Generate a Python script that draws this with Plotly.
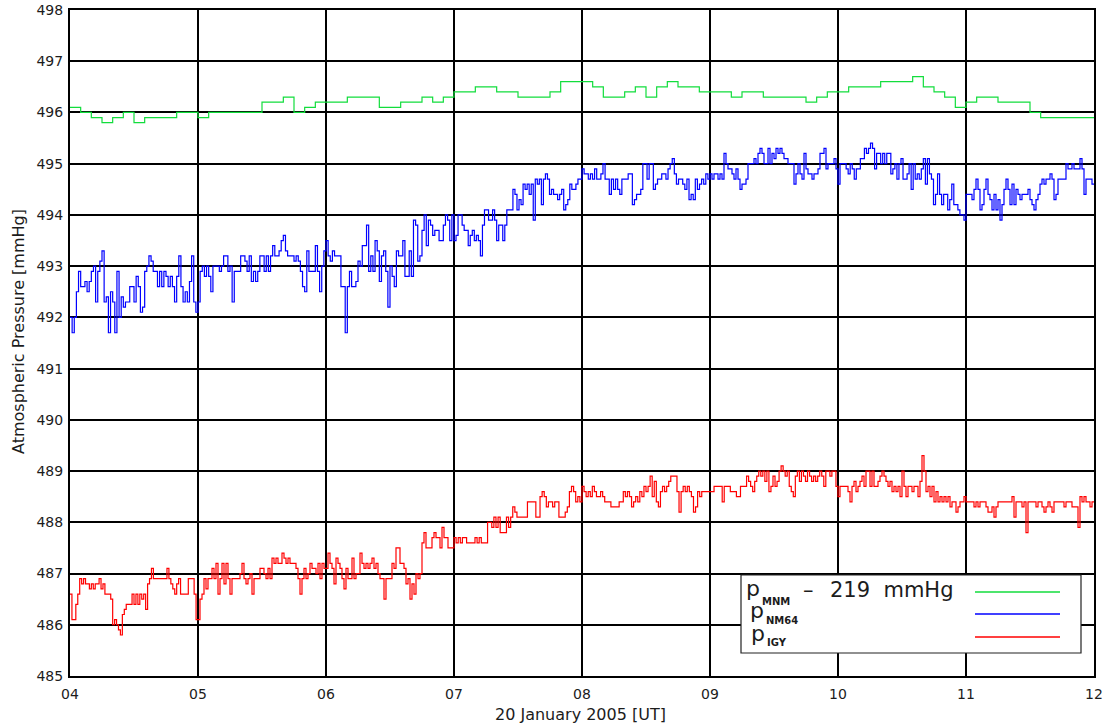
import plotly.graph_objects as go

# ---------------- data ----------------
hours = [4, 5, 6, 7, 8, 9, 10, 11]
hour_labels = ["04", "05", "06", "07", "08", "09", "10", "11", "12"]
y_ticks = list(range(485, 499))

# MNM - 219 mmHg, 5-minute values per hour
mnm_04 = [496.1, 496.0, 495.9, 495.8, 495.9, 496.0, 495.8, 495.9, 495.9, 495.9, 496.0, 496.0]
mnm_05 = [495.9, 496.0, 496.0, 496.0, 496.0, 496.0, 496.2, 496.2, 496.3, 496.0, 496.1, 496.2]
mnm_06 = [496.2, 496.2, 496.3, 496.3, 496.3, 496.1, 496.1, 496.2, 496.2, 496.3, 496.2, 496.3]
mnm_07 = [496.4, 496.4, 496.5, 496.5, 496.4, 496.4, 496.3, 496.3, 496.3, 496.4, 496.6, 496.6]
mnm_08 = [496.6, 496.5, 496.3, 496.3, 496.4, 496.5, 496.3, 496.5, 496.6, 496.5, 496.5, 496.4]
mnm_09 = [496.4, 496.4, 496.3, 496.4, 496.4, 496.3, 496.3, 496.3, 496.3, 496.2, 496.3, 496.4]
mnm_10 = [496.4, 496.5, 496.5, 496.5, 496.6, 496.6, 496.6, 496.7, 496.5, 496.4, 496.3, 496.1]
mnm_11 = [496.2, 496.3, 496.3, 496.2, 496.2, 496.2, 496.0, 495.9, 495.9, 495.9, 495.9, 495.9]

# NM64, ~1-minute values per hour
nm64_04 = [492.0, 491.7, 492.0, 492.5, 492.9, 492.6, 492.6, 492.7, 492.5, 492.7,
           492.9, 493.0, 492.3, 492.9, 493.1, 493.3, 492.3, 492.4, 491.7, 492.5,
           492.3, 491.7, 492.9, 492.0, 492.4, 492.2, 492.3, 492.3, 492.6, 492.6,
           492.3, 492.8, 492.6, 492.1, 492.2, 492.9, 493.0, 493.2, 493.1, 492.9,
           492.9, 492.6, 492.9, 492.6, 492.9, 492.8, 492.6, 492.8, 492.6, 492.3,
           492.8, 493.2, 492.6, 492.3, 492.5, 492.3, 492.7, 493.2, 492.3, 492.1]
nm64_05 = [492.3, 492.9, 493.0, 492.8, 493.0, 492.8, 492.5, 493.0, 493.0, 493.0,
           492.9, 493.0, 493.2, 493.2, 492.9, 493.0, 492.3, 492.9, 492.9, 492.9,
           493.2, 493.2, 493.1, 492.9, 493.2, 492.7, 492.9, 492.7, 492.9, 493.2,
           493.2, 492.9, 493.2, 492.9, 493.2, 493.4, 493.2, 493.2, 493.3, 493.5,
           493.6, 493.3, 493.2, 493.2, 493.2, 493.1, 493.2, 493.1, 492.9, 492.6,
           492.5, 493.3, 492.9, 492.9, 492.9, 493.4, 492.9, 492.5, 493.0, 493.3]
nm64_06 = [493.5, 493.2, 493.1, 493.3, 493.2, 493.2, 493.2, 492.6, 492.6, 491.7,
           492.6, 492.9, 492.6, 492.6, 492.7, 493.1, 493.0, 493.4, 493.4, 493.8,
           492.9, 493.2, 492.9, 493.5, 493.3, 492.7, 493.2, 493.3, 492.9, 492.2,
           493.0, 492.8, 492.6, 493.3, 493.2, 493.2, 493.5, 492.8, 492.8, 493.3,
           492.8, 493.9, 493.8, 493.1, 493.2, 493.7, 494.0, 493.4, 493.9, 493.8,
           493.6, 493.7, 493.7, 493.5, 493.5, 493.8, 494.0, 493.9, 493.5, 494.0]
nm64_07 = [493.5, 493.6, 494.0, 494.0, 493.8, 493.7, 493.7, 493.4, 493.6, 493.7,
           493.5, 493.6, 493.5, 493.2, 493.8, 494.1, 494.1, 493.9, 493.9, 494.1,
           493.9, 493.5, 493.8, 493.8, 493.5, 493.8, 494.1, 494.1, 494.1, 494.5,
           494.4, 494.1, 494.3, 494.2, 494.6, 494.5, 494.6, 494.4, 494.6, 493.9,
           494.7, 494.6, 494.7, 494.2, 494.7, 494.8, 494.7, 494.4, 494.5, 494.4,
           494.4, 494.3, 494.4, 494.5, 494.1, 494.2, 494.3, 494.6, 494.5, 494.5,
           494.6, 494.7, 494.7]
nm64_08 = [494.9, 494.8, 494.8, 494.7, 494.8, 494.7, 494.9, 494.7, 494.7, 494.8,
           495.0, 494.7, 494.7, 494.4, 494.7, 494.5, 494.7, 494.5, 494.4, 494.7,
           494.7, 494.7, 494.8, 494.8, 494.2, 494.3, 494.4, 494.4, 494.5, 495.0,
           495.0, 494.7, 495.0, 495.0, 494.5, 494.6, 494.7, 494.7, 494.8, 494.8,
           494.7, 494.9, 495.0, 495.1, 494.8, 494.6, 494.7, 494.7, 494.6, 494.5,
           494.7, 494.3, 494.4, 494.3, 494.7, 494.5, 494.6, 494.7, 494.6, 494.8,
           494.7]
nm64_09 = [494.8, 494.7, 494.8, 494.8, 494.7, 494.8, 494.7, 495.2, 495.0, 494.9,
           494.9, 494.8, 494.7, 494.9, 494.7, 494.5, 494.6, 494.6, 494.7, 495.0,
           495.0, 495.0, 495.1, 495.0, 495.2, 495.3, 495.2, 495.0, 495.0, 495.3,
           495.0, 495.2, 495.1, 495.3, 495.2, 495.3, 495.2, 495.1, 495.1, 495.0,
           495.0, 495.0, 494.6, 494.8, 495.0, 494.8, 494.7, 495.2, 494.9, 494.8,
           494.8, 494.7, 494.8, 494.8, 494.9, 495.2, 495.2, 495.3, 494.9, 495.0,
           495.0, 495.0, 495.1, 494.9]
nm64_10 = [494.6, 495.0, 495.0, 495.0, 494.9, 494.8, 495.0, 494.9, 494.7, 494.9,
           494.9, 495.1, 495.1, 495.3, 495.2, 495.3, 495.4, 495.3, 494.9, 495.2,
           495.2, 495.0, 495.2, 495.0, 495.2, 495.2, 494.8, 494.9, 495.0, 494.7,
           495.0, 495.1, 494.7, 494.7, 494.8, 495.0, 494.5, 495.0, 494.7, 494.8,
           494.7, 494.9, 495.1, 494.6, 495.1, 494.8, 494.7, 494.2, 494.4, 494.8,
           494.4, 494.2, 494.4, 494.4, 494.1, 494.3, 494.6, 494.2, 494.2, 494.1,
           494.0, 494.0, 493.9]
nm64_11 = [494.4, 494.4, 494.4, 494.3, 494.5, 494.7, 494.5, 494.1, 494.2, 494.5,
           494.7, 494.4, 494.3, 494.1, 494.4, 494.1, 494.3, 493.9, 494.2, 494.5,
           494.7, 494.5, 494.2, 494.6, 494.2, 494.5, 494.4, 494.3, 494.4, 494.4,
           494.4, 494.5, 494.3, 494.2, 494.1, 494.3, 494.4, 494.6, 494.7, 494.6,
           494.7, 494.7, 494.8, 494.7, 494.3, 494.4, 494.7, 494.7, 494.7, 494.7,
           495.0, 494.9, 494.9, 495.0, 494.9, 494.9, 494.9, 495.1, 494.9, 494.4,
           494.7, 494.7, 494.7, 494.6]

# IGY, ~1-minute values per hour
igy_04 = [486.6, 486.1, 486.1, 486.4, 486.6, 486.9, 486.8, 486.9, 486.8, 486.8,
          486.7, 486.8, 486.7, 486.8, 486.8, 486.9, 486.7, 486.8, 486.6, 486.6,
          486.6, 486.5, 486.0, 486.1, 486.0, 485.9, 485.8, 486.2, 486.3, 486.4,
          486.4, 486.4, 486.6, 486.4, 486.6, 486.4, 486.6, 486.5, 486.6, 486.3,
          486.8, 486.9, 487.1, 486.9, 486.9, 486.9, 486.9, 486.9, 486.9, 486.9,
          487.1, 486.9, 486.8, 486.7, 486.6, 486.8, 486.9, 486.6, 486.6, 486.6,
          486.6, 486.9, 486.9, 486.9, 486.6, 486.1]
igy_05 = [486.1, 486.5, 486.6, 486.9, 486.7, 486.9, 486.9, 487.1, 486.9, 487.2,
          486.6, 486.9, 487.2, 486.8, 487.2, 486.9, 486.6, 486.9, 486.9, 486.9,
          486.9, 487.0, 487.2, 486.9, 486.8, 486.9, 487.0, 486.6, 486.9, 486.9,
          486.9, 487.1, 487.1, 487.0, 486.9, 487.1, 486.9, 487.3, 487.2, 487.3,
          487.2, 487.2, 487.4, 487.3, 487.2, 487.3, 487.2, 487.2, 487.2, 487.1,
          486.9, 486.6, 486.9, 487.1, 486.9, 487.0, 487.2, 487.1, 487.1, 487.0,
          487.2, 486.9, 487.2, 487.1]
igy_06 = [487.1, 487.4, 487.2, 487.1, 486.8, 487.3, 487.2, 487.1, 486.9, 486.7,
          487.1, 486.9, 486.9, 487.3, 486.9, 487.0, 487.0, 487.4, 487.2, 487.1,
          487.2, 487.1, 487.2, 487.3, 487.1, 487.2, 487.0, 486.9, 486.9, 486.5,
          486.9, 486.9, 486.9, 487.2, 487.1, 487.5, 487.5, 487.2, 487.2, 487.1,
          486.8, 486.9, 486.5, 486.8, 486.6, 487.0, 486.9, 487.0, 487.6, 487.8,
          487.5, 487.5, 487.5, 487.7, 487.8, 487.7, 487.7, 487.5, 487.9, 487.7,
          487.7, 487.5, 487.5, 487.5]
igy_07 = [487.7, 487.6, 487.7, 487.6, 487.7, 487.7, 487.6, 487.6, 487.6, 487.6,
          487.7, 487.6, 487.7, 487.6, 487.6, 487.6, 488.0, 488.0, 487.9, 488.1,
          487.9, 488.1, 487.8, 487.8, 487.8, 488.1, 487.9, 488.1, 488.3, 488.2,
          488.1, 488.1, 488.1, 488.1, 488.1, 488.4, 488.4, 488.4, 488.4, 488.1,
          488.1, 488.5, 488.6, 488.5, 488.3, 488.4, 488.4, 488.3, 488.4, 488.4,
          488.1, 488.1, 488.1, 488.2, 488.3, 488.6, 488.7, 488.6, 488.4, 488.5,
          488.4]
igy_08 = [488.7, 488.6, 488.5, 488.6, 488.5, 488.7, 488.6, 488.5, 488.5, 488.6,
          488.5, 488.4, 488.4, 488.4, 488.3, 488.3, 488.3, 488.3, 488.4, 488.4,
          488.6, 488.5, 488.6, 488.5, 488.3, 488.4, 488.5, 488.4, 488.6, 488.5,
          488.7, 488.6, 488.7, 488.9, 488.5, 488.8, 488.4, 488.3, 488.6, 488.7,
          488.6, 488.7, 488.8, 488.9, 488.9, 488.9, 488.6, 488.2, 488.6, 488.7,
          488.6, 488.7, 488.6, 488.5, 488.2, 488.3, 488.6, 488.5, 488.6, 488.6,
          488.6, 488.6]
igy_09 = [488.6, 488.6, 488.7, 488.7, 488.7, 488.7, 488.4, 488.7, 488.7, 488.7,
          488.6, 488.6, 488.6, 488.5, 488.5, 488.7, 488.7, 488.7, 488.9, 488.8,
          488.7, 488.6, 488.8, 488.9, 489.0, 488.9, 489.0, 488.8, 489.0, 488.6,
          488.7, 488.9, 488.7, 488.8, 489.0, 489.1, 489.0, 488.9, 489.0, 488.7,
          488.6, 488.5, 488.9, 489.0, 488.8, 489.0, 488.9, 488.8, 489.0, 488.9,
          488.8, 488.9, 488.8, 488.9, 489.0, 488.9, 488.7, 489.0, 489.0, 488.9,
          489.0, 489.0, 488.7]
igy_10 = [488.5, 488.7, 488.7, 488.7, 488.7, 488.6, 488.4, 488.7, 488.8, 488.6,
          488.7, 488.8, 488.9, 488.7, 489.0, 489.0, 488.7, 489.0, 488.7, 488.7,
          488.8, 488.9, 489.0, 488.9, 488.8, 488.7, 488.8, 488.6, 488.7, 488.6,
          488.7, 488.5, 489.0, 488.7, 488.5, 488.7, 488.7, 488.6, 488.7, 488.7,
          488.5, 488.8, 489.3, 489.0, 488.6, 488.7, 488.5, 488.7, 488.4, 488.6,
          488.4, 488.5, 488.4, 488.5, 488.4, 488.5, 488.3, 488.4, 488.4, 488.2,
          488.3, 488.4, 488.4, 488.5]
igy_11 = [488.4, 488.4, 488.4, 488.4, 488.3, 488.4, 488.3, 488.4, 488.4, 488.4,
          488.3, 488.2, 488.2, 488.3, 488.1, 488.3, 488.4, 488.4, 488.4, 488.4,
          488.4, 488.4, 488.4, 488.5, 488.1, 488.4, 488.4, 488.4, 488.3, 488.4,
          487.8, 488.4, 488.4, 488.4, 488.4, 488.3, 488.4, 488.4, 488.3, 488.2,
          488.3, 488.4, 488.3, 488.2, 488.4, 488.4, 488.4, 488.4, 488.4, 488.3,
          488.4, 488.4, 488.4, 488.3, 488.3, 488.3, 487.9, 488.5, 488.4, 488.5,
          488.4, 488.4, 488.3, 488.4]

mnm_hours = [mnm_04, mnm_05, mnm_06, mnm_07, mnm_08, mnm_09, mnm_10, mnm_11]
nm64_hours = [nm64_04, nm64_05, nm64_06, nm64_07, nm64_08, nm64_09, nm64_10, nm64_11]
igy_hours = [igy_04, igy_05, igy_06, igy_07, igy_08, igy_09, igy_10, igy_11]


def build(hour_lists):
    xs, ys = [], []
    for h, vals in zip(hours, hour_lists):
        n = len(vals)
        for i, v in enumerate(vals):
            xs.append(h + i / n)
            ys.append(v)
    xs.append(12.0)
    ys.append(ys[-1])
    return xs, ys


GREEN = "#12dd3c"
BLUE = "#0000ff"
RED = "#ff0000"
TXT = "#1c1c1c"
FONT = "DejaVu Sans"

fig = go.Figure()
for lists, col in ((mnm_hours, GREEN), (nm64_hours, BLUE), (igy_hours, RED)):
    x, y = build(lists)
    fig.add_trace(go.Scatter(x=x, y=y, mode="lines", line=dict(color=col, width=1.2, shape="hv"),
                             showlegend=False, hoverinfo="skip"))

W, H = 1110, 724
L, R, T, B = 70, 16, 10, 48
PW, PH = W - L - R, H - T - B


def px(xp):
    return (xp - L) / PW


def py(yp):
    return (H - B - yp) / PH


fig.update_layout(
    width=W, height=H, autosize=False,
    margin=dict(l=L, r=R, t=T, b=B, autoexpand=False),
    paper_bgcolor="white", plot_bgcolor="white",
    font=dict(family=FONT, color=TXT, size=14),
    xaxis=dict(range=[4, 12], tickmode="array", tickvals=list(range(4, 13)), ticktext=hour_labels,
               showgrid=True, gridcolor="black", gridwidth=1.5, zeroline=False, automargin=False,
               showline=True, linecolor="black", linewidth=2, mirror=True,
               ticks="outside", ticklen=4, tickcolor="rgba(0,0,0,0)",
               tickfont=dict(size=14, family=FONT, color=TXT)),
    yaxis=dict(range=[485, 498], tickmode="array", tickvals=y_ticks, ticktext=[str(v) for v in y_ticks],
               showgrid=True, gridcolor="black", gridwidth=1.5, zeroline=False, automargin=False,
               showline=True, linecolor="black", linewidth=2, mirror=True,
               ticks="outside", ticklen=2, tickcolor="rgba(0,0,0,0)",
               tickfont=dict(size=14, family=FONT, color=TXT)),
)

ann = []
ann.append(dict(text="Atmospheric Pressure [mmHg]", x=px(18), y=py(332), xref="paper", yref="paper",
                textangle=-90, showarrow=False, xanchor="center", yanchor="middle",
                font=dict(size=16, family=FONT, color=TXT)))
ann.append(dict(text="20 January 2005 [UT]", x=px(580), y=py(714), xref="paper", yref="paper",
                showarrow=False, xanchor="center", yanchor="middle",
                font=dict(size=16, family=FONT, color=TXT)))

# legend box
shapes = [dict(type="rect", xref="paper", yref="paper", x0=px(741), x1=px(1081), y0=py(653), y1=py(575),
               fillcolor="white", line=dict(color="#222222", width=1.2), layer="above")]
for col, yy in ((GREEN, 592), (BLUE, 614), (RED, 637)):
    shapes.append(dict(type="line", xref="paper", yref="paper", x0=px(975), x1=px(1060), y0=py(yy), y1=py(yy),
                       line=dict(color=col, width=1.3), layer="above"))

legend_items = [("MNM", 588, 601), ("NM64", 610, 620), ("IGY", 633, 642)]
p_x = [744, 748, 749]
for (sub, yp, ys), xx in zip(legend_items, p_x):
    ann.append(dict(text="p", x=px(xx), y=py(yp), xref="paper", yref="paper", showarrow=False,
                    xanchor="left", yanchor="middle", font=dict(size=22, family=FONT, color=TXT)))
    ann.append(dict(text="<b>" + sub + "</b>", x=px(xx + 16), y=py(ys), xref="paper", yref="paper",
                    showarrow=False, xanchor="left", yanchor="middle",
                    font=dict(size=10, family=FONT, color=TXT)))
ann.append(dict(text="–", x=px(801), y=py(590), xref="paper", yref="paper", showarrow=False,
                xanchor="left", yanchor="middle", font=dict(size=21, family=FONT, color=TXT)))
ann.append(dict(text="219  mmHg", x=px(828), y=py(590), xref="paper", yref="paper", showarrow=False,
                xanchor="left", yanchor="middle", font=dict(size=21, family=FONT, color=TXT)))

fig.update_layout(shapes=shapes, annotations=ann)
fig.write_html("out.html")
